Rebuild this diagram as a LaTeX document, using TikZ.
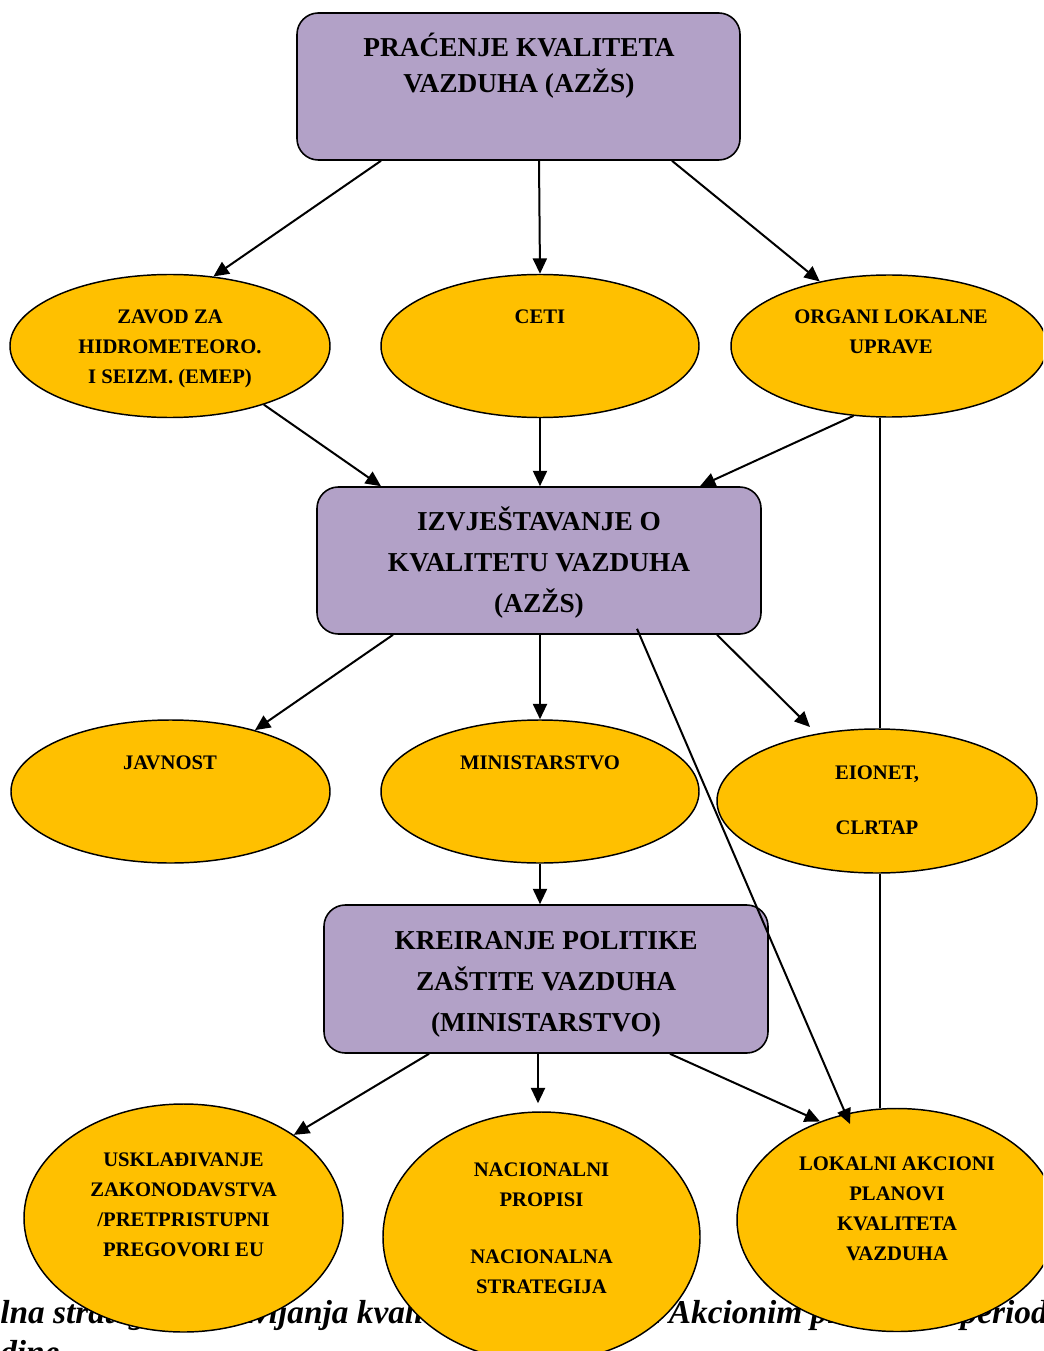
\documentclass[tikz,border=0pt]{standalone}
\usepackage{fontspec}
\setmainfont{Liberation Serif}
\usetikzlibrary{shapes.geometric,arrows.meta,calc}
\definecolor{boxpurple}{HTML}{B2A1C7}
\definecolor{ellorange}{HTML}{FFC000}
\tikzset{
  purplebox/.style={rectangle, rounded corners=16pt, draw=black, line width=1.2pt, fill=boxpurple, inner sep=0pt},
  ell/.style={ellipse, draw=black, line width=1.1pt, fill=ellorange, inner sep=0pt},
  etext/.style={align=center, inner sep=0pt, font=\bfseries\fontsize{15.5}{22.5}\selectfont},
  btext/.style={align=center, inner sep=0pt, font=\bfseries\fontsize{20.5}{27}\selectfont},
  btextwide/.style={align=center, inner sep=0pt, font=\bfseries\fontsize{20.5}{30.75}\selectfont},
  captext/.style={inner sep=0pt, font=\bfseries\itshape\fontsize{25}{30}\selectfont},
  arr/.style={line width=1.5pt, -{Triangle[length=11.5pt,width=10.5pt]}},
  plainline/.style={line width=1.5pt}
}
\begin{document}
\begin{tikzpicture}[x=0.75pt,y=-0.75pt]
\useasboundingbox (0,0) rectangle (1043,1351);
\clip (0,0) rectangle (1043,1351);
\fill[white] (0,0) rectangle (1043,1351);

% caption behind the ellipses
\node[captext, anchor=base west] (cap1) at (0,1323) {lna strategija upravljanja kvalitetom vazduha sa Akcionim planom za period};
\node[captext, anchor=base west] (cap2) at (0,1363) {dine};

% boxes
\node[purplebox, minimum width=443*0.75pt, minimum height=147*0.75pt] (box1) at (518.5,86.5) {};
\node[btext] (box1t) at (519,66) {PRAĆENJE KVALITETA\\VAZDUHA (AZŽS)};

\node[purplebox, minimum width=444*0.75pt, minimum height=147*0.75pt] (box2) at (539,560.5) {};
\node[btextwide] (box2t) at (539,563) {IZVJEŠTAVANJE O\\KVALITETU VAZDUHA\\(AZŽS)};

\node[purplebox, minimum width=444*0.75pt, minimum height=148*0.75pt] (box3) at (546,979) {};
\node[btextwide] (box3t) at (546,984.5) {KREIRANJE POLITIKE\\ZAŠTITE VAZDUHA\\(MINISTARSTVO)};

% row 1 ellipses
\node[ell, minimum width=320*0.75pt, minimum height=143*0.75pt] (zavod) at (170,346) {};
\node[etext] (zavodt) at (170,349) {ZAVOD ZA\\HIDROMETEORO.\\I SEIZM. (EMEP)};

\node[ell, minimum width=318*0.75pt, minimum height=143*0.75pt] (ceti) at (540,346) {};
\node[etext] (cetit) at (540,317) {CETI};

\node[ell, minimum width=316*0.75pt, minimum height=142*0.75pt] (organi) at (889,346) {};
\node[etext] (organit) at (891,332) {ORGANI LOKALNE\\UPRAVE};

% row 2 ellipses
\node[ell, minimum width=319*0.75pt, minimum height=143*0.75pt] (javnost) at (170.5,791.5) {};
\node[etext] (javnostt) at (170,763) {JAVNOST};

\node[ell, minimum width=318*0.75pt, minimum height=143*0.75pt] (ministry) at (540,791.5) {};
\node[etext] (ministryt) at (540,763) {MINISTARSTVO};

\node[ell, minimum width=320*0.75pt, minimum height=144*0.75pt] (eionet) at (877,801) {};
\node[etext] (eionett) at (877,800.5) {EIONET,\\[18.75pt]CLRTAP};

% row 3 ellipses
\node[ell, minimum width=319*0.75pt, minimum height=228*0.75pt] (uskl) at (183.5,1218) {};
\node[etext] (usklt) at (183.5,1205) {USKLAĐIVANJE\\ZAKONODAVSTVA\\/PRETPRISTUPNI\\PREGOVORI EU};

\node[ell, minimum width=317*0.75pt, minimum height=250*0.75pt] (nac) at (541.5,1237) {};
\node[etext] (nact) at (541.5,1228.5) {NACIONALNI\\PROPISI\\[20pt]NACIONALNA\\STRATEGIJA};

\node[ell, minimum width=320*0.75pt, minimum height=223*0.75pt] (lokalni) at (897,1220) {};
\node[etext] (lokalnit) at (897,1209) {LOKALNI AKCIONI\\PLANOVI\\KVALITETA\\VAZDUHA};

% connectors
\draw[arr] ($(box1.south)+(-137.5,0)$) -- (zavod.58);
\draw[arr] ($(box1.south)+(20.5,0)$) -- (ceti.north);
\draw[arr] ($(box1.south)+(153.5,0)$) -- (organi.137);

\draw[arr] (zavod.-32) -- ($(box2.north)+(-158,0)$);
\draw[arr] (ceti.south) -- (box2.north -| ceti.south);
\draw[arr] (organi.-117) -- ($(box2.north)+(161,0)$);

\draw[arr] ($(box2.south)+(-146,0)$) -- (javnost.36);
\draw[arr] (box2.south -| ministry.north) -- (ministry.north);
\draw[arr] ($(box2.south)+(178,0)$) -- ($(eionet.center)+(-67,-74)$);
\draw[arr] ($(box2.south)+(98,-6)$) -- ($(lokalni.center)+(-47,-96)$);

\draw[arr] (ministry.south) -- (ministry.south |- box3.north);

\draw[arr] ($(box3.south)+(-117,0)$) -- (uskl.37);
\draw[arr] ($(box3.south)+(-8,0)$) -- ($(nac.north)+(-3.5,-8)$);
\draw[arr] ($(box3.south)+(124,0)$) -- (lokalni.128);

\draw[plainline] ($(eionet.north |- organi.south)+(3,0)$) -- ($(eionet.north)+(3,0)$);
\draw[plainline] ($(eionet.south)+(3,0)$) -- ($(eionet.south |- lokalni.north)+(3,0)$);
\end{tikzpicture}
\end{document}
